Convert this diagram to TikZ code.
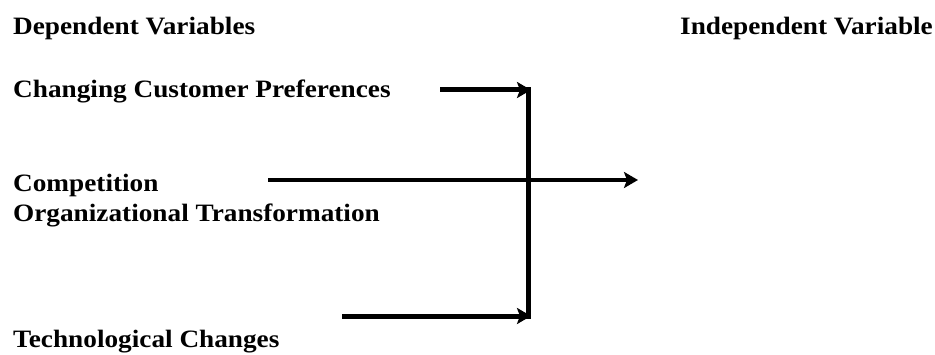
\documentclass[tikz,border=0pt]{standalone}
\usepackage{fontspec}
\setmainfont{Liberation Serif}
\newfontfamily\labelfont[FakeStretch=1.09]{Liberation Serif}
\usetikzlibrary{arrows.meta}
\begin{document}
\begin{tikzpicture}[x=1pt,y=1pt,
  label text/.style={anchor=base west,inner sep=0pt,font=\labelfont\fontsize{25}{29}\selectfont\bfseries},
  flow/.style={line width=5pt,-{Stealth[length=14pt,width=16pt,inset=3pt]}},
  bar/.style={line width=5pt}]
\useasboundingbox (0,0) rectangle (935,354);
% headings
\node[label text] (dep) at (13,319) {Dependent Variables};
\node[label text] (ind) at (680,319) {Independent Variable};
% factors
\node[label text] (pref) at (13,256) {Changing Customer Preferences};
\node[label text] (comp) at (13,162) {Competition};
\node[label text] (org)  at (13,132) {Organizational Transformation};
\node[label text] (tech) at (13,7) {Technological Changes};
% connector end points
\coordinate (prefA) at (440,264);
\coordinate (prefB) at (531,264);
\coordinate (compA) at (268,174);
\coordinate (compB) at (638,174);
\coordinate (techA) at (342,38);
\coordinate (techB) at (531,38);
\coordinate (barTop) at (528,266.5);
\coordinate (barBot) at (528,35.5);
% arrows
\draw[flow] (prefA) -- (prefB);
\draw[flow] (techA) -- (techB);
\draw[bar] (barTop) -- (barBot);
\draw[flow,line width=4.5pt] (compA) -- (compB);
\end{tikzpicture}
\end{document}
